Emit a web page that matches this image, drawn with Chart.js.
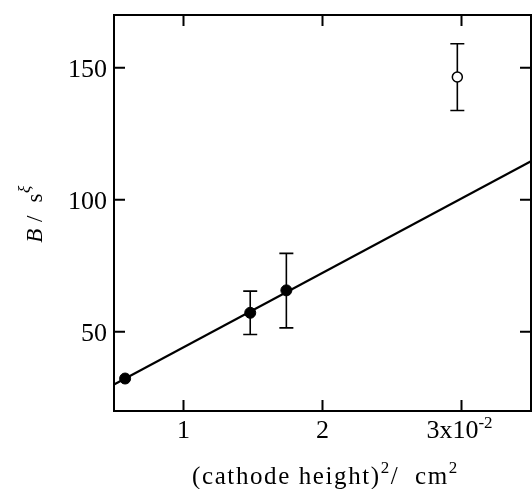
<!DOCTYPE html>
<html>
<head>
<meta charset="utf-8">
<script src="https://cdn.jsdelivr.net/npm/chart.js@4/dist/chart.umd.min.js"></script>
<style>
  html, body { margin: 0; padding: 0; background: #fff; }
  canvas { display: block; }
</style>
</head>
<body>
<canvas id="chart" width="532" height="489"></canvas>
<script>
// values (x in units of 10^-2 cm^2)
const filledX = [0.58, 1.48, 1.74];
const filledY = [32.3, 57.2, 65.7];
const filledLow = [null, 49.0, 51.5];
const filledHigh = [null, 65.4, 79.7];

const openX = [2.97];
const openY = [146.5];
const openLow = [133.8];
const openHigh = [159.1];

const fitX = [0.5, 3.5];
const fitY = [30.0, 114.6];

const xTicks = [1, 2, 3];
const yTicks = [50, 100, 150];

const FONT = '"Liberation Serif", "DejaVu Serif", serif';

function toPoints(xs, ys) {
    return xs.map((x, i) => ({ x: x, y: ys[i] }));
}

// draws a row of [text, font, dy] pieces starting at x0
function drawPieces(ctx, pieces, cx, baseY, spacing) {
    ctx.letterSpacing = spacing + 'px';
    let total = 0;
    pieces.forEach(p => {
        ctx.font = p[1] + FONT;
        total += ctx.measureText(p[0]).width;
    });
    let tx = cx - total / 2;
    ctx.textAlign = 'left';
    pieces.forEach(p => {
        ctx.font = p[1] + FONT;
        ctx.fillText(p[0], tx, baseY + p[2]);
        tx += ctx.measureText(p[0]).width;
    });
    ctx.letterSpacing = '0px';
}

// error bars go under the markers
const errorBars = {
    id: 'errorBars',
    beforeDatasetsDraw(chart) {
        const ctx = chart.ctx;
        const xs = chart.scales.x, ys = chart.scales.y;
        const sets = [
            [filledX, filledLow, filledHigh],
            [openX, openLow, openHigh]
        ];
        ctx.save();
        ctx.strokeStyle = '#000';
        ctx.lineWidth = 1.6;
        sets.forEach(([xv, lo, hi]) => {
            xv.forEach((x, i) => {
                if (lo[i] == null) return;
                const px = xs.getPixelForValue(x);
                const p1 = ys.getPixelForValue(lo[i]);
                const p2 = ys.getPixelForValue(hi[i]);
                ctx.beginPath();
                ctx.moveTo(px, p1); ctx.lineTo(px, p2);
                ctx.moveTo(px - 7, p1); ctx.lineTo(px + 7, p1);
                ctx.moveTo(px - 7, p2); ctx.lineTo(px + 7, p2);
                ctx.stroke();
            });
        });
        ctx.restore();
    }
};

// box, inward ticks, labels, titles
const frame = {
    id: 'frame',
    afterDraw(chart) {
        const ctx = chart.ctx;
        const a = chart.chartArea;
        const xs = chart.scales.x, ys = chart.scales.y;
        ctx.save();
        ctx.strokeStyle = '#000';
        ctx.lineWidth = 2;
        ctx.strokeRect(a.left, a.top, a.right - a.left, a.bottom - a.top);

        ctx.beginPath();
        xTicks.forEach(v => {
            const px = xs.getPixelForValue(v);
            ctx.moveTo(px, a.bottom); ctx.lineTo(px, a.bottom - 11);
            ctx.moveTo(px, a.top); ctx.lineTo(px, a.top + 11);
        });
        yTicks.forEach(v => {
            const py = ys.getPixelForValue(v);
            ctx.moveTo(a.left, py); ctx.lineTo(a.left + 11, py);
            ctx.moveTo(a.right, py); ctx.lineTo(a.right - 11, py);
        });
        ctx.stroke();

        ctx.fillStyle = '#000';
        // y tick labels
        ctx.font = '26px ' + FONT;
        ctx.textAlign = 'right';
        ctx.textBaseline = 'alphabetic';
        yTicks.forEach(v => {
            ctx.fillText(String(v), a.left - 7, ys.getPixelForValue(v) + 9);
        });

        // x tick labels, last one carries the exponent
        xTicks.forEach((v, i) => {
            const px = xs.getPixelForValue(v);
            if (i === xTicks.length - 1) {
                drawPieces(ctx, [[v + 'x10', '26px ', 0], ['-2', '17px ', -10]], px - 2, a.bottom + 27, 0);
            } else {
                drawPieces(ctx, [[String(v), '26px ', 0]], px, a.bottom + 27, 0);
            }
        });

        // x title
        drawPieces(ctx, [
            ['(cathode height)', '25px ', 0],
            ['2', '17px ', -11],
            ['/  cm', '25px ', 0],
            ['2', '17px ', -11]
        ], (a.left + a.right) / 2 + 3, 484, 1.6);

        // y title, rotated
        ctx.translate(42, (a.top + a.bottom) / 2 + 1);
        ctx.rotate(-Math.PI / 2);
        drawPieces(ctx, [
            ['B', 'italic 23px ', 0],
            [' /  s', '23px ', 0],
            ['\u03BE', 'italic 17px ', -12]
        ], 0, 0, 0.5);
        ctx.restore();
    }
};

new Chart(document.getElementById('chart').getContext('2d'), {
    type: 'scatter',
    data: {
        datasets: [
            {
                type: 'line',
                data: toPoints(fitX, fitY),
                borderColor: '#000',
                borderWidth: 2.2,
                pointRadius: 0,
                fill: false
            },
            {
                data: toPoints(filledX, filledY),
                pointRadius: 5.5,
                backgroundColor: '#000',
                borderColor: '#000',
                borderWidth: 1
            },
            {
                data: toPoints(openX, openY),
                pointRadius: 5,
                backgroundColor: '#fff',
                borderColor: '#000',
                borderWidth: 1.5
            }
        ]
    },
    options: {
        responsive: false,
        animation: false,
        layout: { autoPadding: false, padding: { top: 15, right: 1, left: 0, bottom: 0 } },
        plugins: { legend: { display: false }, tooltip: { enabled: false } },
        scales: {
            x: {
                type: 'linear', min: 0.5, max: 3.5,
                ticks: { display: false },
                grid: { display: false },
                border: { display: false },
                afterFit: s => { s.height = 78; }
            },
            y: {
                type: 'linear', min: 20, max: 170,
                ticks: { display: false },
                grid: { display: false },
                border: { display: false },
                afterFit: s => { s.width = 114; }
            }
        }
    },
    plugins: [errorBars, frame]
});
</script>
</body>
</html>
